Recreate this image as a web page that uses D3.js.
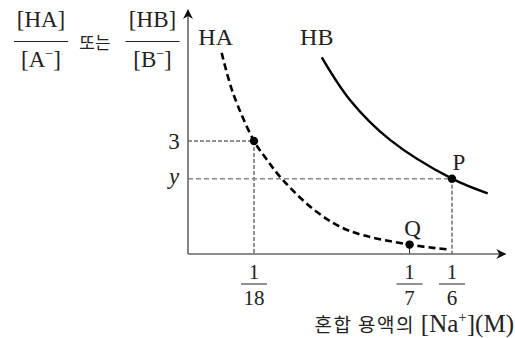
<!DOCTYPE html>
<html>
<head>
<meta charset="utf-8">
<script src="https://cdn.jsdelivr.net/npm/d3@7"></script>
<style>
  body { margin: 0; background: #fff; }
  svg { display: block; }
</style>
</head>
<body>
<script>
const width = 515
const height = 338

// [Na+] (M) and ratio
const haX = [0.0374, 0.0438, 1 / 18, 0.0621, 0.0711, 0.0907, 0.1094, 1 / 7, 0.1637]
const haY = [5.34, 4.27, 3, 2.55, 2.0, 1.12, 0.61, 0.25, 0.125]
const hbX = [0.0936, 0.1094, 0.1319, 1 / 6, 0.1867]
const hbY = [5.22, 4.09, 3.03, 2.0, 1.61]

const marked = [
  { x: 1 / 18, y: 3, name: '' },
  { x: 1 / 7, y: 0.25, name: 'Q' },
  { x: 1 / 6, y: 2.0, name: 'P' }
]

const xTicks = [
  { v: 1 / 18, num: '1', den: '18' },
  { v: 1 / 7, num: '1', den: '7' },
  { v: 1 / 6, num: '1', den: '6' }
]
const yTicks = [
  { v: 3, label: '3', italic: false },
  { v: 2.0, label: 'y', italic: true }
]

const serif = "'Liberation Serif', 'Times New Roman', serif"
const kfont = "'Noto Sans CJK KR', sans-serif"

const x = d3.scaleLinear().domain([1 / 18, 1 / 6]).range([254, 452])
const y = d3.scaleLinear().domain([0, 3]).range([254, 141])

const xMin = 1 / 54, xMax = 0.1966
const yMax = 6.48

let svg = d3.select('body').append('svg')
  .attr('width', width)
  .attr('height', height)

svg.append('defs').html('<marker id="arrow" viewBox="0 0 10 10" refX="9" refY="5"' +
  ' markerUnits="userSpaceOnUse" markerWidth="13" markerHeight="10" orient="auto">' +
  '<path d="M0 0L10 5L0 10L3 5z" fill="#111"/></marker>')

// guide lines
const guides = svg.append('g').attr('fill', 'none')
guides.append('path')
  .attr('d', 'M' + x(xMin) + ',' + y(3) + 'H' + x(1 / 18) + 'V' + y(0))
  .attr('stroke', '#222').attr('stroke-width', 1).attr('stroke-dasharray', '4 2')
guides.append('path')
  .attr('d', 'M' + x(xMin) + ',' + y(2) + 'H' + x(1 / 6))
  .attr('stroke', '#888').attr('stroke-width', 1.5).attr('stroke-dasharray', '5 3')
guides.append('path')
  .attr('d', 'M' + x(1 / 6) + ',' + y(2) + 'V' + y(0))
  .attr('stroke', '#222').attr('stroke-width', 1).attr('stroke-dasharray', '4 2')
guides.append('path')
  .attr('d', 'M' + x(1 / 7) + ',' + y(0.25) + 'V' + y(0))
  .attr('stroke', '#333').attr('stroke-width', 1)

// axes
svg.append('path')
  .attr('d', 'M' + x(xMin) + ',' + y(0) + 'H' + x(xMax))
  .attr('stroke', '#666').attr('stroke-width', 1.6).attr('fill', 'none')
  .attr('marker-end', 'url(#arrow)')
svg.append('path')
  .attr('d', 'M' + x(xMin) + ',' + y(0) + 'V' + y(yMax))
  .attr('stroke', '#666').attr('stroke-width', 1.6).attr('fill', 'none')
  .attr('marker-end', 'url(#arrow)')

// curves
const line = d3.line()
  .x((d) => x(d[0]))
  .y((d) => y(d[1]))
  .curve(d3.curveCatmullRom.alpha(0.5))

svg.append('path')
  .attr('d', line(d3.zip(haX, haY)))
  .attr('fill', 'none').attr('stroke', '#000')
  .attr('stroke-width', 2.6).attr('stroke-dasharray', '7 4')

svg.append('path')
  .attr('d', line(d3.zip(hbX, hbY)))
  .attr('fill', 'none').attr('stroke', '#000')
  .attr('stroke-width', 2.4)

svg.selectAll('circle.pt')
  .data(marked)
  .join('circle')
    .attr('class', 'pt')
    .attr('cx', (d) => x(d.x))
    .attr('cy', (d) => y(d.y))
    .attr('r', 4.2)
    .attr('fill', '#000')

// labels
const labels = svg.append('g')
  .style('font-family', serif)
  .attr('fill', '#222')

labels.selectAll('text.pname')
  .data(marked.filter((d) => d.name))
  .join('text')
    .attr('class', 'pname')
    .attr('x', (d) => x(d.x) + (d.name === 'P' ? 7 : 3))
    .attr('y', (d) => y(d.y) - 9)
    .attr('text-anchor', 'middle')
    .attr('font-size', 23)
    .text((d) => d.name)

labels.append('text')
  .attr('x', x(haX[0]) - 6).attr('y', 45)
  .attr('text-anchor', 'middle').attr('font-size', 24)
  .text('HA')
labels.append('text')
  .attr('x', x(hbX[0]) - 5).attr('y', 45)
  .attr('text-anchor', 'middle').attr('font-size', 24)
  .text('HB')

// y ticks
labels.selectAll('text.yt')
  .data(yTicks)
  .join('text')
    .attr('class', 'yt')
    .attr('x', 174)
    .attr('y', (d) => y(d.v) + (d.italic ? 5 : 8))
    .attr('text-anchor', 'middle')
    .attr('font-size', 23)
    .attr('font-style', (d) => d.italic ? 'italic' : 'normal')
    .text((d) => d.label)

// x ticks as fractions
const xt = labels.selectAll('g.xt')
  .data(xTicks)
  .join('g')
    .attr('class', 'xt')
    .attr('transform', (d) => 'translate(' + x(d.v) + ',0)')
xt.append('text')
  .attr('y', 279).attr('text-anchor', 'middle').attr('font-size', 21)
  .text((d) => d.num)
xt.append('line')
  .attr('x1', -13).attr('x2', 13).attr('y1', 284).attr('y2', 284)
  .attr('stroke', '#222').attr('stroke-width', 1)
xt.append('text')
  .attr('y', 304.5).attr('text-anchor', 'middle').attr('font-size', 21)
  .text((d) => d.den)

// y-axis title: [HA]/[A-] 또는 [HB]/[B-]
function frac(cx, top, ion) {
  let g = labels.append('g').attr('transform', 'translate(' + cx + ',0)')
  g.append('text').attr('y', 27).attr('text-anchor', 'middle')
    .attr('font-size', 23).text(top)
  g.append('line').attr('x1', -27).attr('x2', 27).attr('y1', 41.5).attr('y2', 41.5)
    .attr('stroke', '#222').attr('stroke-width', 1.1)
  let t = g.append('text').attr('y', 67).attr('text-anchor', 'middle').attr('font-size', 23)
  t.append('tspan').text('[' + ion)
  t.append('tspan').attr('dy', -9).attr('font-size', 14).text('−')
  t.append('tspan').attr('dy', 9).text(']')
}
frac(41, '[HA]', 'A')
frac(152.5, '[HB]', 'B')
labels.append('text')
  .attr('x', 95).attr('y', 49)
  .attr('text-anchor', 'middle')
  .style('font-family', kfont).attr('font-size', 17)
  .text('또는')

// x-axis title
let xtitle = labels.append('text')
  .attr('x', 514).attr('y', 332)
  .attr('text-anchor', 'end')
xtitle.append('tspan').style('font-family', kfont).attr('font-size', 19)
  .style('letter-spacing', '1.5px').text('혼합 용액의 ')
xtitle.append('tspan').attr('font-size', 25).text('[Na')
xtitle.append('tspan').attr('font-size', 15).attr('dy', -10).text('+')
xtitle.append('tspan').attr('font-size', 25).attr('dy', 10).text('](M)')
</script>
</body>
</html>
